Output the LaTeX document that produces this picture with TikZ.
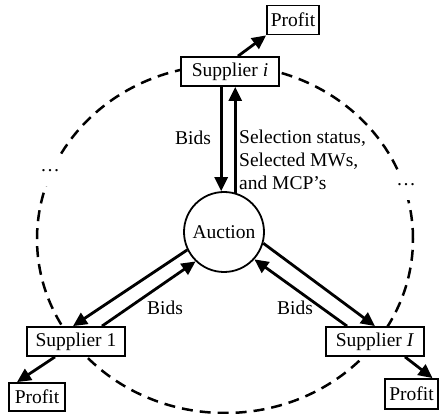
\documentclass[tikz,border=0pt]{standalone}
\usepackage{fontspec}
\setmainfont{Liberation Serif}
\usetikzlibrary{arrows.meta}
\begin{document}
\begin{tikzpicture}[x=1pt,y=-1pt,
  font=\fontsize{19.5}{23}\selectfont,
  box/.style={draw,line width=1.8pt,fill=white,inner sep=0pt,minimum height=29pt},
  supbox/.style={box,minimum width=98pt},
  profbox/.style={box,minimum width=52pt},
  arr/.style={line width=2.8pt,-{Triangle[length=14pt,width=13pt]}},
  dots/.style={fill=white,inner sep=0pt,minimum width=22pt,minimum height=30pt}]
\useasboundingbox (0,0) rectangle (440,414);
% dashed ellipse
\draw[line width=2.5pt,dash pattern=on 11pt off 7pt] (225,239) ellipse [x radius=188pt, y radius=174pt];
\node[dots] (dl) at (50,171) {\dots};
\node[dots] (dr) at (406,185) {\dots};
% nodes
\node[supbox] (supi) at (230,71.5) {Supplier \textit{i}};
\node[supbox] (sup1) at (76,341.5) {Supplier 1};
\node[supbox] (supI) at (375,341.5) {Supplier \textit{I}};
\node[profbox] (profT) at (293,20) {Profit};
\node[profbox,minimum width=56pt,minimum height=28pt] (profL) at (37,397) {Profit};
\node[profbox,minimum width=53pt,minimum height=30pt] (profR) at (411.5,394) {Profit};
\node[draw,circle,line width=1.8pt,minimum size=80pt,inner sep=0pt] (auc) at (224,232) {Auction};
% vertical arrows
\draw[arr] (auc.94 |- supi.south) -- (auc.94);
\draw[arr] (auc.74) -- (auc.74 |- supi.south);
\node (bidsT) at (193,138) {Bids};
\node[anchor=west,align=left,inner sep=0pt] (sel) at (239,160) {Selection status,\\Selected MWs,\\and MCP's};
% left pair
\draw[arr] (auc.206) -- ([xshift=-3pt]sup1.north);
\draw[arr] ([xshift=26pt]sup1.north) -- (auc.226);
\node (bidsL) at (165,308) {Bids};
% right pair
\draw[arr] (auc.344) -- (supI.north);
\draw[arr] ([xshift=-28pt]supI.north) -- (auc.318);
\node (bidsR) at (295,308) {Bids};
% profit arrows
\draw[arr] ([xshift=8pt]supi.north) -- (profT.south west);
\draw[arr] ([xshift=-21pt]sup1.south) -- ([xshift=-20pt]profL.north);
\draw[arr] ([xshift=30pt]supI.south) -- ([xshift=21pt]profR.north);
\end{tikzpicture}
\end{document}
